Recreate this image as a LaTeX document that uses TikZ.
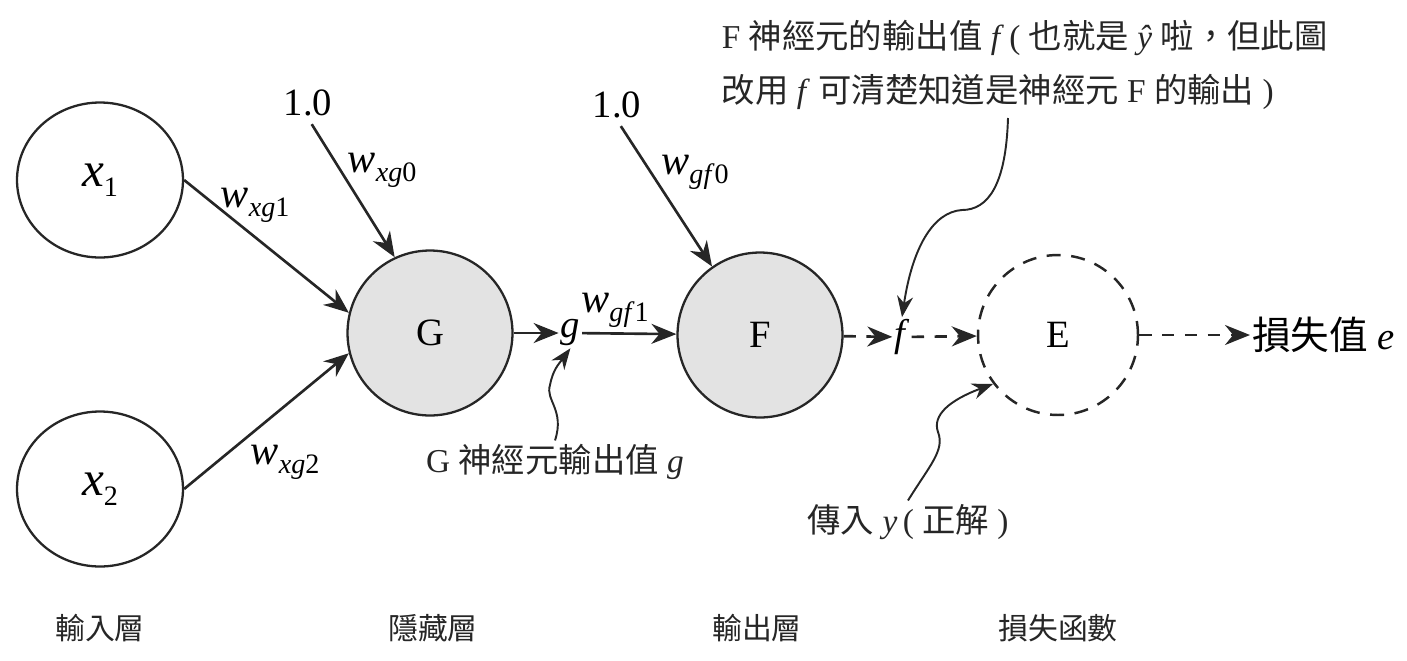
\documentclass[tikz,border=0pt]{standalone}
\usepackage{fontspec}
\setmainfont{Liberation Serif}[ItalicFont={Liberation Serif Italic}]
\newfontfamily\cjk{Noto Sans CJK TC}
\usepackage{xcolor}
\definecolor{cLine}{HTML}{262626}
\definecolor{cFill}{HTML}{E3E3E3}
\newcommand{\zh}[1]{{\cjk #1}}
% 斜體變數與下標
\newcommand{\var}[1]{\textit{#1}}
\newcommand{\sbs}[1]{\raisebox{-0.45ex}{\fontsize{16}{16}\selectfont #1}}
\usetikzlibrary{positioning,arrows.meta,shapes.geometric}
\tikzset{
  node-input/.style={draw=cLine,line width=1.3pt,ellipse,
    minimum width=3.32cm,minimum height=3.1cm,font=\fontsize{28}{30}\selectfont},
  node-neuron/.style={draw=cLine,line width=1.3pt,circle,fill=cFill,
    minimum size=3.3cm,font=\fontsize{22}{24}\selectfont},
  node-loss/.style={draw=cLine,line width=1.4pt,circle,
    dash pattern=on 8pt off 6pt,minimum size=3.2cm,font=\fontsize{22}{24}\selectfont},
  lbl/.style={inner sep=1pt,font=\fontsize{22}{24}\selectfont},
  weight/.style={inner sep=1pt,font=\fontsize{24}{26}\selectfont},
  note/.style={inner sep=2pt,align=left,text=cLine,font=\fontsize{19}{31}\selectfont},
  layer/.style={inner sep=1pt,text=cLine,font=\cjk\fontsize{17}{20}\selectfont},
  arrow/.style={-{Stealth[length=5mm,width=4mm]},line width=1.5pt,draw=cLine},
  arrow-dashed/.style={arrow,dash pattern=on 7pt off 6pt},
  arrow-note/.style={-{Stealth[length=4.2mm,width=3.2mm]},line width=1.1pt,draw=cLine},
}
\begin{document}
\begin{tikzpicture}[x=0.02cm,y=-0.02cm]
  \useasboundingbox (0,0) rectangle (1407,660);
  % 神經元
  \node[node-input] (x1) at (100,180) {\var{x}\sbs{1}};
  \node[node-input] (x2) at (100,489) {\var{x}\sbs{2}};
  \node[node-neuron] (G) at (430,333) {G};
  \node[node-neuron] (F) at (760,335) {F};
  \node[node-loss] (E) at (1058,335) {E};
  \node[lbl,right=0.9cm of G] (g) {\var{g}};
  \node[lbl] (f) at (902,337) {\var{f}};
  \node[lbl] (b1) at (308,103) {1.0};
  \node[lbl] (b2) at (617,105) {1.0};
  \node[lbl,anchor=west] (loss) at (1250,335) {\zh{損失值} \var{e}};
  % 權重
  \node[weight] (wxg1) at (255,205) {\var{w}\sbs{\var{xg}1}};
  \node[weight] (wxg2) at (285,462) {\var{w}\sbs{\var{xg}2}};
  \node[weight] (wxg0) at (382,170) {\var{w}\sbs{\var{xg}0}};
  \node[weight] (wgf0) at (695,172) {\var{w}\sbs{\var{gf}0}};
  \node[weight] (wgf1) at (615,310) {\var{w}\sbs{\var{gf}1}};
  \draw[arrow] (x1.east) -- (G.166);
  \draw[arrow] (x2.east) -- (G.194);
  \draw[arrow,shorten <=4pt] (b1.south) -- (G.115);
  \draw[arrow,shorten <=4pt] (b2.south) -- (F.125);
  \draw[arrow] (G) -- (g);
  \draw[arrow] (g) -- (F);
  \draw[arrow-dashed] (F) -- (f);
  \draw[arrow-dashed] (f) -- (E);
  \draw[arrow-dashed] (E) -- (loss);
  % 說明
  \node[note,anchor=north west] (fnote) at (718,16)
    {F \zh{神經元的輸出值} \var{f}\,( \zh{也就是} \var{ŷ} \zh{啦，但此圖}\\
     \zh{改用} \var{f} \zh{可清楚知道是神經元} F \zh{的輸出} )};
  \node[note] (gnote) at (555,462) {G \zh{神經元輸出值} \var{g}};
  \node[note] (ynote) at (908,522) {\zh{傳入} \var{y}\,( \zh{正解} )};
  \coordinate (fnote-tail) at (1008,118);
  \draw[arrow-note] (fnote-tail) .. controls (1006,185) and (988,210) .. (962,210)
    .. controls (932,212) and (912,250) .. (f.north);
  \draw[arrow-note] (gnote.north) .. controls (565,410) and (545,400) .. (550,385)
    .. controls (553,370) and (558,365) .. (g.south);
  \draw[arrow-note] (ynote.north) .. controls (930,465) and (945,450) .. (938,432)
    .. controls (932,415) and (950,400) .. (E.217);
  % 層
  \node[layer] (in-layer) at (100,628) {輸入層};
  \node[layer] (hid-layer) at (433,628) {隱藏層};
  \node[layer] (out-layer) at (757,628) {輸出層};
  \node[layer] (loss-layer) at (1058,628) {損失函數};
\end{tikzpicture}
\end{document}
